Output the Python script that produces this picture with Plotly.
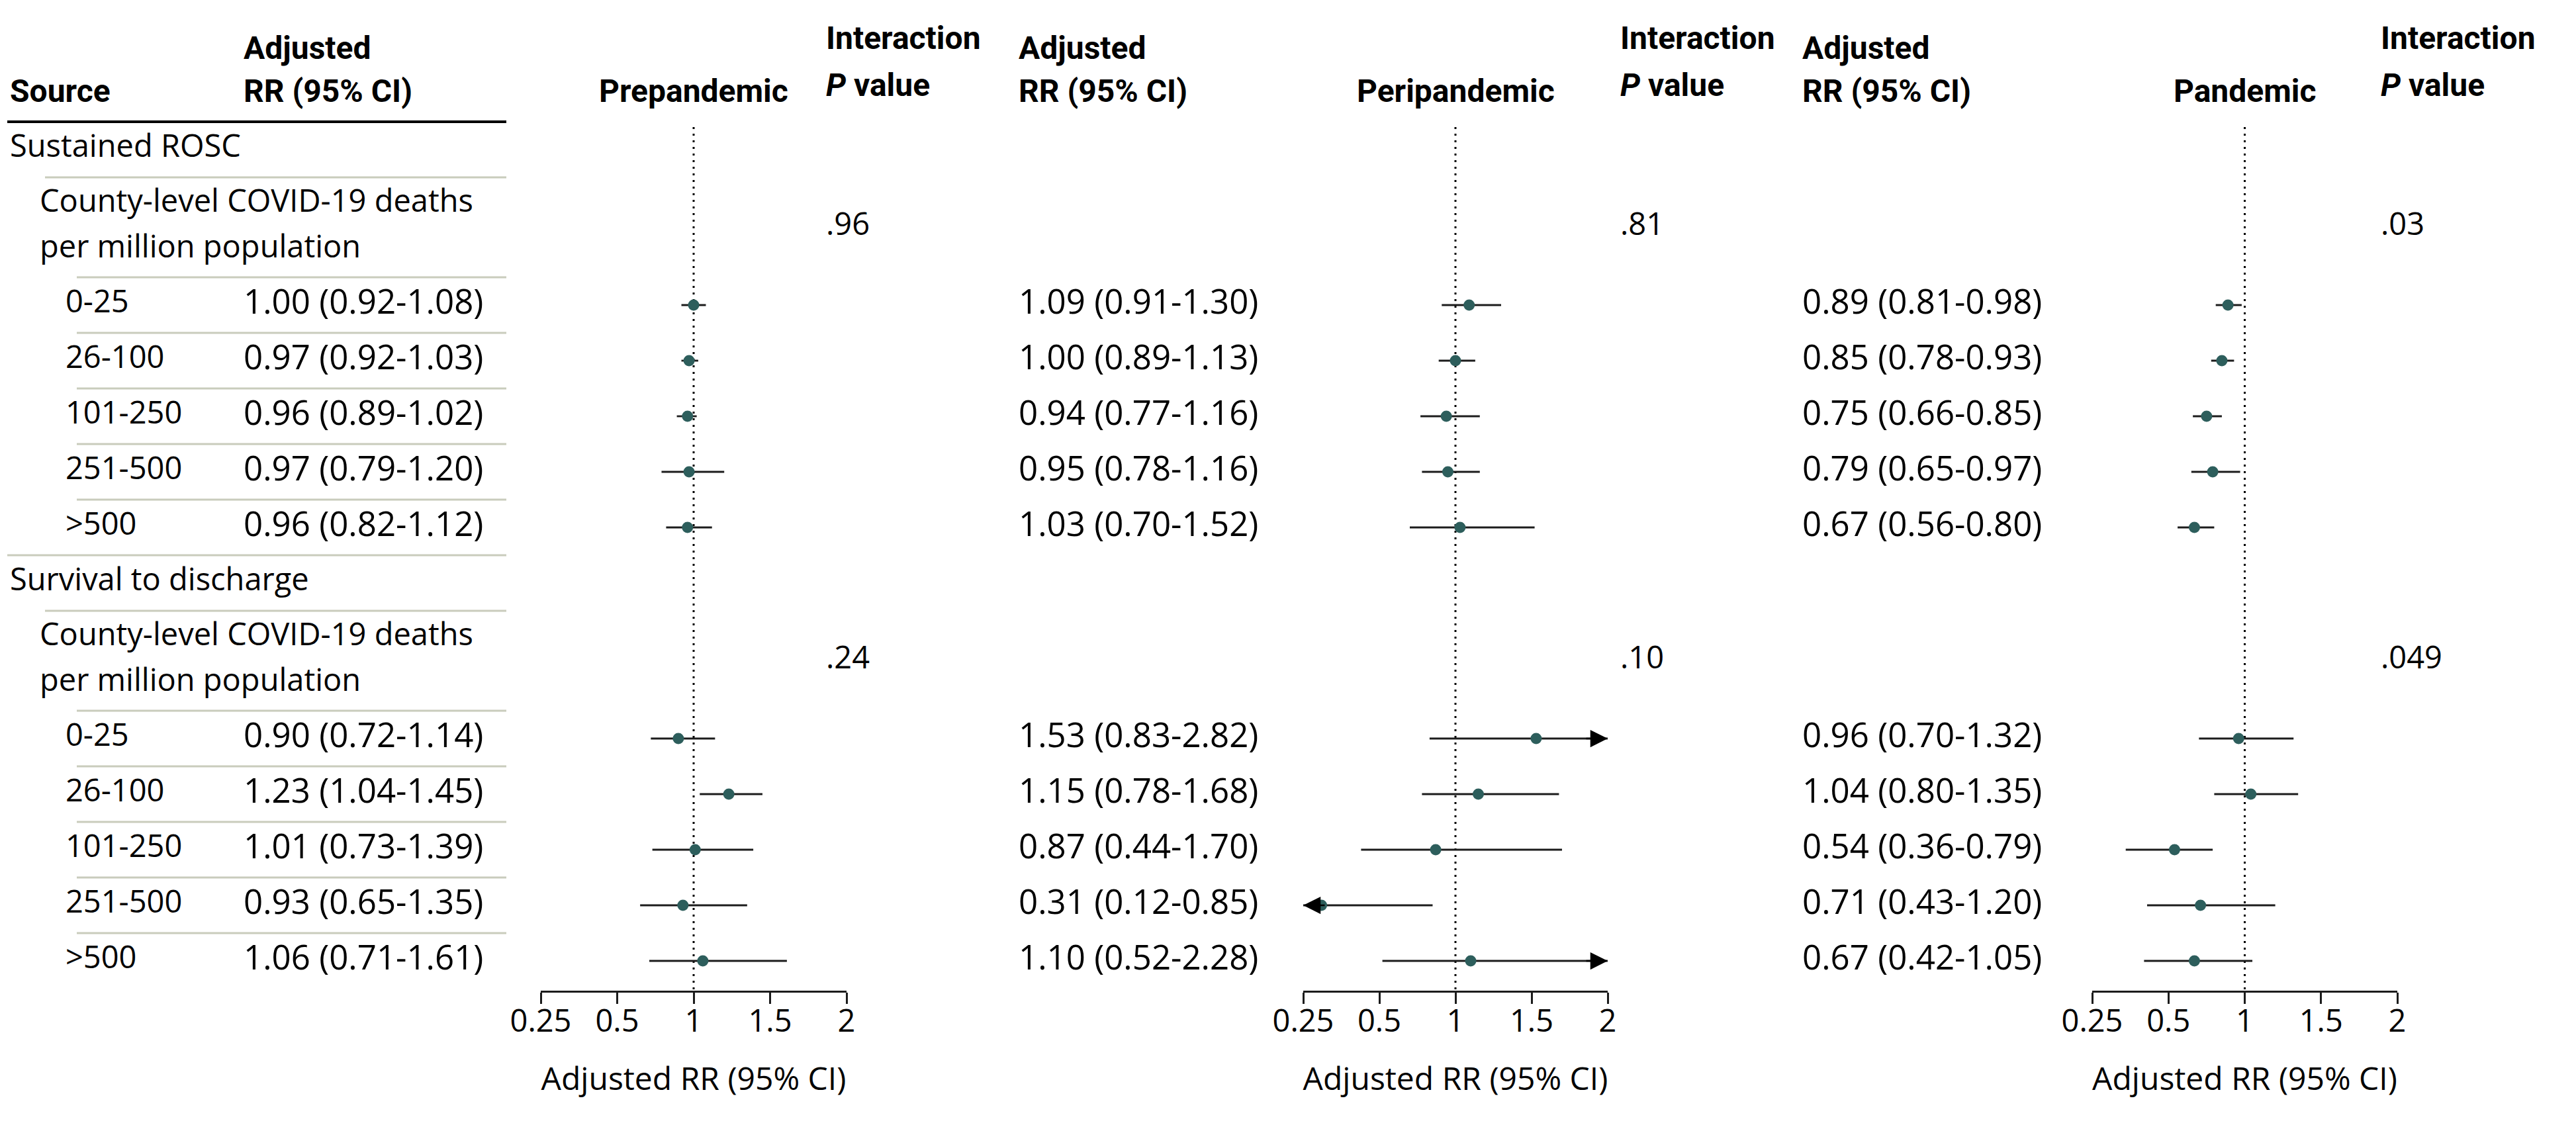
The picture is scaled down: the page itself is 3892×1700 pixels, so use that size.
import numpy as np
import plotly.graph_objects as go

# ---------------- data ----------------
categories = ["0-25", "26-100", "101-250", "251-500", ">500"]
outcomes = ["Sustained ROSC", "Survival to discharge"]
subgroup_label = ["County-level COVID-19 deaths", "per million population"]
periods = ["Prepandemic", "Peripandemic", "Pandemic"]

tick_values = [0.25, 0.5, 1, 1.5, 2]
tick_labels = ["0.25", "0.5", "1", "1.5", "2"]

# Sustained ROSC
rosc_pre_rr = [1.00, 0.97, 0.96, 0.97, 0.96]
rosc_pre_lo = [0.92, 0.92, 0.89, 0.79, 0.82]
rosc_pre_hi = [1.08, 1.03, 1.02, 1.20, 1.12]
rosc_peri_rr = [1.09, 1.00, 0.94, 0.95, 1.03]
rosc_peri_lo = [0.91, 0.89, 0.77, 0.78, 0.70]
rosc_peri_hi = [1.30, 1.13, 1.16, 1.16, 1.52]
rosc_pan_rr = [0.89, 0.85, 0.75, 0.79, 0.67]
rosc_pan_lo = [0.81, 0.78, 0.66, 0.65, 0.56]
rosc_pan_hi = [0.98, 0.93, 0.85, 0.97, 0.80]

# Survival to discharge
surv_pre_rr = [0.90, 1.23, 1.01, 0.93, 1.06]
surv_pre_lo = [0.72, 1.04, 0.73, 0.65, 0.71]
surv_pre_hi = [1.14, 1.45, 1.39, 1.35, 1.61]
surv_peri_rr = [1.53, 1.15, 0.87, 0.31, 1.10]
surv_peri_lo = [0.83, 0.78, 0.44, 0.12, 0.52]
surv_peri_hi = [2.82, 1.68, 1.70, 0.85, 2.28]
surv_pan_rr = [0.96, 1.04, 0.54, 0.71, 0.67]
surv_pan_lo = [0.70, 0.80, 0.36, 0.43, 0.42]
surv_pan_hi = [1.32, 1.35, 0.79, 1.20, 1.05]

p_values_rosc = [".96", ".81", ".03"]
p_values_surv = [".24", ".10", ".049"]

# ---------------- layout constants ----------------
W, H = 3892, 1700
FONT = "Open Sans"
HFONT = "Roboto"
FS = 47
FS_RR = 51
AXIS_Y = 1489          # pixel row of the x-axis line
HEADER_LINE = 176
TEXT_DY = -7
SEP_COLOR = "#c9ccbc"
MARKER_COLOR = "#2d5e5c"
LINE_COLOR = "#1c1c1c"

panel_dom_px = [(809, 1271), (1961, 2421), (3153, 3614)]
rr_text_x = [358, 1529, 2713]
p_text_x = [1238, 2438, 3587]
TABLE_LEFT, TABLE_RIGHT = 3, 757
X_OUTCOME, X_SUB, X_CAT = 5, 50, 89
SEP1_X, SEP2_X = 60, 108


def px(xp):
    return xp / W


tick_pos = list(range(len(tick_values)))


def tx(v):
    # piecewise-linear axis defined by the tick values
    return float(np.interp(v, tick_values, tick_pos))


sections = [
    dict(name=outcomes[0], pvals=p_values_rosc,
         data=[(rosc_pre_rr, rosc_pre_lo, rosc_pre_hi),
               (rosc_peri_rr, rosc_peri_lo, rosc_peri_hi),
               (rosc_pan_rr, rosc_pan_lo, rosc_pan_hi)]),
    dict(name=outcomes[1], pvals=p_values_surv,
         data=[(surv_pre_rr, surv_pre_lo, surv_pre_hi),
               (surv_peri_rr, surv_peri_lo, surv_peri_hi),
               (surv_pan_rr, surv_pan_lo, surv_pan_hi)]),
]

# row geometry (pixel rows from top)
ROW = 84
y = HEADER_LINE
for k, sec in enumerate(sections):
    sec["title_y"] = y + 42
    sec["sep1"] = y + 84
    sec["sub_y"] = [sec["sep1"] + 41, sec["sep1"] + 110]
    sec["sep2"] = sec["sep1"] + 151
    sec["rows"] = [sec["sep2"] + 42 + ROW * i for i in range(len(categories))]
    sec["row_seps"] = [sec["sep2"] + ROW * (i + 1) for i in range(len(categories) - 1)]
    y = sec["sep2"] + ROW * len(categories)
    sec["end"] = y

fig = go.Figure()
annotations = []
shapes = []

base_font = dict(family=FONT, size=FS, color="#000000")
rr_font = dict(family=FONT, size=FS_RR, color="#000000")
bold_font = dict(family=HFONT, size=48, color="#000000", weight="bold")


def add_text(x, yv, text, font=base_font, xanchor="left"):
    annotations.append(dict(x=px(x), xref="paper", y=yv + TEXT_DY, yref="y", text=text,
                            showarrow=False, xanchor=xanchor, yanchor="middle",
                            font=font))


# ---------------- header ----------------
add_text(X_OUTCOME, 136, "Source", bold_font)
for p in range(3):
    add_text(rr_text_x[p], 71, "Adjusted", bold_font)
    add_text(rr_text_x[p], 136, "RR (95% CI)", bold_font)
    add_text(p_text_x[p], 56, "Interaction", bold_font)
    add_text(p_text_x[p], 127, "<i>P</i> value", bold_font)

shapes.append(dict(type="line", xref="paper", yref="y", x0=px(TABLE_LEFT), x1=px(TABLE_RIGHT),
                   y0=HEADER_LINE, y1=HEADER_LINE, line=dict(color="#000000", width=4)))

# ---------------- table rows ----------------
for k, sec in enumerate(sections):
    add_text(X_OUTCOME, sec["title_y"], sec["name"])
    shapes.append(dict(type="line", xref="paper", yref="y", x0=px(SEP1_X), x1=px(TABLE_RIGHT),
                       y0=sec["sep1"], y1=sec["sep1"], line=dict(color=SEP_COLOR, width=3)))
    for j, line in enumerate(subgroup_label):
        add_text(X_SUB, sec["sub_y"][j], line)
    shapes.append(dict(type="line", xref="paper", yref="y", x0=px(SEP2_X), x1=px(TABLE_RIGHT),
                       y0=sec["sep2"], y1=sec["sep2"], line=dict(color=SEP_COLOR, width=3)))
    for ys in sec["row_seps"]:
        shapes.append(dict(type="line", xref="paper", yref="y", x0=px(SEP2_X), x1=px(TABLE_RIGHT),
                           y0=ys, y1=ys, line=dict(color=SEP_COLOR, width=3)))
    if k < len(sections) - 1:
        shapes.append(dict(type="line", xref="paper", yref="y", x0=px(TABLE_LEFT), x1=px(TABLE_RIGHT),
                           y0=sec["end"], y1=sec["end"], line=dict(color=SEP_COLOR, width=3)))
    for i, cat in enumerate(categories):
        add_text(X_CAT, sec["rows"][i], cat)
    pmid = (sec["sub_y"][0] + sec["sub_y"][1]) / 2
    for p in range(3):
        rr, lo, hi = sec["data"][p]
        for i in range(len(categories)):
            add_text(rr_text_x[p], sec["rows"][i], f"{rr[i]:.2f} ({lo[i]:.2f}-{hi[i]:.2f})", rr_font)
        add_text(p_text_x[p], pmid, sec["pvals"][p])

# ---------------- forest panels ----------------
arrow_style = dict(showarrow=True, arrowhead=2, arrowsize=2.1, arrowwidth=2.5,
                   arrowcolor="#000000", text="", ay=0)
for p in range(3):
    xname = "x" if p == 0 else f"x{p + 1}"
    lx, ly, mx, my = [], [], [], []
    for sec in sections:
        rr, lo, hi = sec["data"][p]
        for i in range(len(categories)):
            yy = sec["rows"][i]
            lx += [tx(lo[i]), tx(hi[i]), None]
            ly += [yy, yy, None]
            mx.append(tx(rr[i]))
            my.append(yy)
            if hi[i] > tick_values[-1]:
                annotations.append(dict(x=tx(hi[i]), y=yy, xref=xname, yref="y",
                                        ax=-34, **arrow_style))
            if lo[i] < tick_values[0]:
                annotations.append(dict(x=tx(lo[i]), y=yy, xref=xname, yref="y",
                                        ax=34, **arrow_style))
    fig.add_trace(go.Scatter(x=lx, y=ly, xaxis=xname, yaxis="y", mode="lines",
                             line=dict(color=LINE_COLOR, width=2.8), hoverinfo="skip",
                             showlegend=False))
    fig.add_trace(go.Scatter(x=mx, y=my, xaxis=xname, yaxis="y", mode="markers",
                             marker=dict(color=MARKER_COLOR, size=17, line=dict(width=0)),
                             showlegend=False, cliponaxis=False))
    # reference line at RR = 1
    shapes.append(dict(type="line", xref=xname, yref="y", x0=tx(1), x1=tx(1),
                       y0=HEADER_LINE + 8, y1=AXIS_Y, layer="below",
                       line=dict(color="#000000", width=3, dash="3px,7px")))
    # panel title
    annotations.append(dict(x=tx(1), xref=xname, y=136 + TEXT_DY, yref="y", text=periods[p],
                            showarrow=False, xanchor="center", yanchor="middle",
                            font=bold_font))
    axis = dict(domain=[px(panel_dom_px[p][0]), px(panel_dom_px[p][1])],
                range=[tick_pos[0], tick_pos[-1]], anchor="y",
                tickmode="array", tickvals=[tx(v) for v in tick_values], ticktext=tick_labels,
                showline=True, linecolor="#1c1c1c", linewidth=2.5,
                ticks="outside", ticklen=17, tickwidth=2.5, tickcolor="#1c1c1c",
                ticklabelstandoff=-14,
                tickfont=dict(family=FONT, size=FS, color="#000000"),
                showgrid=False, zeroline=False, automargin=False,
                title=dict(text="Adjusted RR (95% CI)", standoff=42,
                           font=dict(family=FONT, size=48, color="#000000")))
    fig.update_layout(**{("xaxis" if p == 0 else f"xaxis{p + 1}"): axis})

fig.update_layout(
    width=W, height=H,
    margin=dict(l=0, r=0, t=0, b=0),
    paper_bgcolor="white", plot_bgcolor="white",
    yaxis=dict(domain=[(H - AXIS_Y) / H, 1], range=[AXIS_Y, 0], visible=False,
               showgrid=False, zeroline=False, automargin=False),
    annotations=annotations,
    shapes=shapes,
    showlegend=False,
)

fig.write_html("out.html")
